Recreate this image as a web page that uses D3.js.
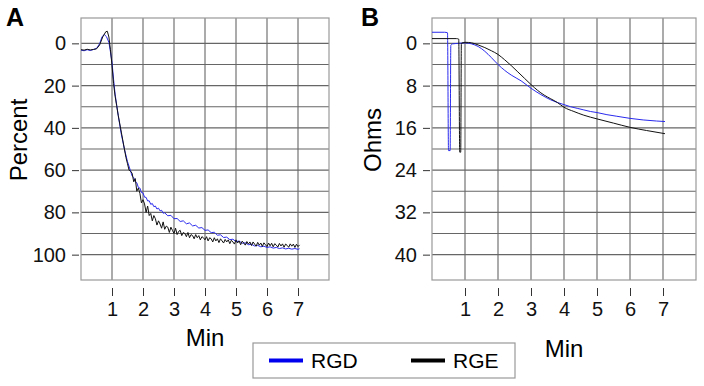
<!DOCTYPE html>
<html>
<head>
<meta charset="utf-8">
<script src="https://cdn.jsdelivr.net/npm/d3@7"></script>
<style>
  body { margin: 0; background: #fff; }
  svg { font-family: "Liberation Sans", Arial, sans-serif; }
</style>
</head>
<body>
<svg id="chart" width="704" height="386"></svg>
<script>
// panel A: percent vs minutes, [min, percent]
const rgdPercent = [
  [0, 3.2], [0.1, 3.5], [0.2, 3.0], [0.3, 3.4], [0.4, 2.9], [0.5, 2.4], [0.6, 0.2], [0.68, -3.2],
  [0.75, -4.2], [0.82, -3.2], [0.9, -0.5], [0.95, 4], [1.0, 9], [1.05, 17], [1.1, 24], [1.15, 29],
  [1.2, 34], [1.3, 43], [1.4, 50], [1.5, 56], [1.6, 60.5], [1.65, 62.8], [1.7, 63.5], [1.75, 65.5],
  [1.8, 66], [1.85, 68.2], [1.9, 68.5], [1.95, 70.6], [2.0, 70.8], [2.05, 72.8], [2.1, 72.9], [2.15, 74.6],
  [2.2, 74.5], [2.25, 76.2], [2.3, 75.8], [2.35, 77.3], [2.4, 77], [2.45, 78.4], [2.5, 78], [2.55, 79.3],
  [2.6, 79], [2.65, 80.4], [2.7, 80.2], [2.8, 81.6], [2.9, 81.4], [3.0, 83], [3.1, 82.9], [3.2, 84.3],
  [3.3, 84], [3.4, 85.4], [3.5, 85], [3.6, 86.4], [3.7, 86.1], [3.8, 87.4], [3.9, 87.2], [4.0, 88.5],
  [4.1, 88.3], [4.2, 89.6], [4.3, 89.4], [4.4, 90.8], [4.5, 90.6], [4.6, 91.9], [4.7, 91.7], [4.8, 92.9],
  [4.9, 92.7], [5.0, 93.8], [5.1, 93.6], [5.2, 94.6], [5.3, 94.4], [5.4, 95.3], [5.5, 95.1], [5.6, 95.9],
  [5.7, 95.6], [5.8, 96.3], [5.9, 96], [6.0, 96.6], [6.1, 96.3], [6.2, 96.9], [6.3, 96.6], [6.4, 97.1],
  [6.5, 96.8], [6.6, 97.3], [6.7, 97], [6.8, 97.4], [6.9, 97.1], [7.0, 97.5], [7.05, 97.2]
];
const rgePercent = [
  [0, 3.0], [0.1, 3.2], [0.2, 2.8], [0.3, 3.1], [0.4, 2.9], [0.5, 2.6], [0.6, 0.8], [0.7, -3],
  [0.8, -5.5], [0.85, -5.7], [0.9, -3], [0.95, 3], [1.0, 10.5], [1.05, 19], [1.1, 25], [1.15, 29.5],
  [1.2, 34], [1.3, 42], [1.4, 50], [1.45, 54], [1.5, 57], [1.55, 60], [1.6, 60.5], [1.65, 61.5],
  [1.7, 65.5], [1.75, 64], [1.8, 70], [1.85, 68.5], [1.9, 71], [1.95, 75.5], [2.0, 74], [2.05, 76],
  [2.1, 80], [2.15, 77], [2.2, 81.5], [2.25, 80.5], [2.3, 84], [2.35, 81.5], [2.4, 83], [2.45, 86],
  [2.5, 84], [2.55, 85.5], [2.6, 87.5], [2.65, 84.5], [2.7, 88], [2.75, 86.5], [2.8, 87], [2.85, 89.5],
  [2.9, 87], [2.95, 88.5], [3.0, 90], [3.05, 87.5], [3.1, 90.5], [3.15, 89], [3.2, 88.5], [3.25, 91],
  [3.3, 89.5], [3.35, 90], [3.4, 91.5], [3.45, 89.5], [3.5, 92], [3.55, 90.5], [3.6, 91], [3.65, 92.5],
  [3.7, 90.5], [3.75, 92], [3.8, 91], [3.85, 93], [3.9, 91.5], [3.95, 92], [4.0, 93], [4.05, 91.5],
  [4.1, 93.5], [4.15, 92], [4.2, 92.5], [4.25, 94], [4.3, 92], [4.35, 93.5], [4.4, 92.5], [4.45, 94.3],
  [4.5, 92.5], [4.55, 93.5], [4.6, 94.5], [4.65, 92.8], [4.7, 94], [4.75, 93], [4.8, 94.8], [4.85, 93.2],
  [4.9, 94], [4.95, 95], [5.0, 93], [5.05, 94.5], [5.1, 93.5], [5.15, 95.3], [5.2, 93.6], [5.25, 94.5],
  [5.3, 95.5], [5.35, 93.8], [5.4, 95], [5.45, 94], [5.5, 95.7], [5.55, 94], [5.6, 95], [5.65, 96],
  [5.7, 94.2], [5.75, 95.5], [5.8, 94.5], [5.85, 96.1], [5.9, 94.4], [5.95, 95.3], [6.0, 96.2], [6.05, 94.5],
  [6.1, 95.8], [6.15, 94.6], [6.2, 96.3], [6.25, 94.8], [6.3, 95.5], [6.35, 96.4], [6.4, 94.7], [6.45, 95.9],
  [6.5, 94.9], [6.55, 96.5], [6.6, 95], [6.65, 95.6], [6.7, 96.5], [6.75, 94.9], [6.8, 96], [6.85, 95],
  [6.9, 96.6], [6.95, 95.1], [7.0, 96.2], [7.05, 95.4]
];

// panel B: ohms vs minutes
const rgdOhms = [
  [0, -2.1], [0.38, -2.1], [0.47, -2.0], [0.5, 20.3], [0.55, 20.3], [0.57, 0.4], [0.62, 0.1], [0.8, 0],
  [1.0, -0.1], [1.2, 0.1], [1.4, 0.6], [1.6, 1.5], [1.8, 2.7], [2.0, 4.0], [2.2, 5.1], [2.4, 6.0],
  [2.7, 7.1], [3.0, 8.5], [3.3, 9.7], [3.6, 10.7], [3.8, 11.2], [4.0, 11.6], [4.2, 12.0], [4.4, 12.3],
  [4.6, 12.6], [4.8, 12.9], [5.0, 13.1], [5.3, 13.5], [5.6, 13.8], [6.0, 14.2], [6.4, 14.5], [6.8, 14.7],
  [7.06, 14.8]
];
const rgeOhms = [
  [0, -0.9], [0.74, -0.9], [0.81, -0.8], [0.84, 20.6], [0.87, 20.6], [0.89, 0], [1.0, -0.2], [1.2, -0.1],
  [1.4, 0.3], [1.6, 0.8], [1.8, 1.4], [2.0, 2.1], [2.2, 3.1], [2.4, 4.2], [2.6, 5.4], [2.8, 6.6],
  [3.0, 7.8], [3.2, 8.9], [3.4, 9.8], [3.6, 10.5], [3.8, 11.2], [4.0, 12.1], [4.3, 12.9], [4.6, 13.6],
  [5.0, 14.3], [5.5, 15.1], [6.0, 15.9], [6.5, 16.5], [7.06, 17.1]
];

const minTicks = [1, 2, 3, 4, 5, 6, 7];
const percentTicks = [0, 20, 40, 60, 80, 100];
const percentGrid = [0, 10, 20, 30, 40, 50, 60, 70, 80, 90, 100];
const ohmsTicks = [0, 8, 16, 24, 32, 40];
const ohmsGrid = [0, 4, 8, 12, 16, 20, 24, 28, 32, 36, 40];
const seriesNames = ["RGD", "RGE"];
const seriesColors = ["#2a2aee", "#111111"];

const svg = d3.select("#chart");
const plotTop = 18, plotBottom = 280;

function panel(opts) {
  const x = d3.scaleLinear([0, 8], [opts.left, opts.right]);
  const y = d3.scaleLinear(opts.yDomain, [plotTop, plotBottom]);
  const g = svg.append("g");

  g.append("g")
    .selectAll("line")
    .data(opts.grid)
    .join("line")
    .attr("x1", opts.left).attr("x2", opts.right)
    .attr("y1", d => y(d)).attr("y2", d => y(d))
    .attr("stroke", "#666").attr("stroke-width", 1.1);

  g.append("g")
    .selectAll("line")
    .data(minTicks)
    .join("line")
    .attr("x1", d => x(d)).attr("x2", d => x(d))
    .attr("y1", plotTop).attr("y2", plotBottom)
    .attr("stroke", "#666").attr("stroke-width", 1.1);

  g.append("rect")
    .attr("x", opts.left).attr("y", plotTop)
    .attr("width", opts.right - opts.left).attr("height", plotBottom - plotTop)
    .attr("fill", "none").attr("stroke", "#999").attr("stroke-width", 1.2);

  const yAxis = g.append("g")
    .attr("transform", `translate(${opts.left - 2},0)`)
    .call(d3.axisLeft(y).tickValues(opts.ticks).tickSize(7).tickPadding(6));
  yAxis.select(".domain").remove();
  yAxis.selectAll("text").style("font-size", "20px").attr("fill", "#111");
  yAxis.selectAll("line").attr("stroke", "#333");

  const xAxis = g.append("g")
    .attr("transform", `translate(0,${plotBottom + 8})`)
    .call(d3.axisBottom(x).tickValues(minTicks).tickSize(8).tickPadding(6));
  xAxis.select(".domain").remove();
  xAxis.selectAll("text").style("font-size", "20px").attr("fill", "#111");
  xAxis.selectAll("line").attr("stroke", "#333");

  const line = d3.line().x(d => x(d[0])).y(d => y(d[1])).curve(opts.curve);
  opts.series.forEach((s, i) => {
    g.append("path")
      .datum(s)
      .attr("fill", "none")
      .attr("stroke", seriesColors[i])
      .attr("stroke-width", opts.lineWidth)
      .attr("stroke-linejoin", "round")
      .attr("d", line);
  });

  g.append("text")
    .attr("transform", "rotate(-90)")
    .attr("x", -140).attr("y", opts.ylabelX)
    .attr("text-anchor", "middle")
    .style("font-size", "24px")
    .text(opts.ylabel);

  g.append("text")
    .attr("x", (opts.left + opts.right) / 2).attr("y", opts.minY)
    .attr("text-anchor", "middle")
    .style("font-size", "24px")
    .text("Min");

  g.append("text")
    .attr("x", opts.letterX).attr("y", 26)
    .style("font-size", "25px").style("font-weight", "bold")
    .text(opts.letter);
}

panel({
  left: 81, right: 329, yDomain: [-12, 112], ticks: percentTicks, grid: percentGrid,
  series: [rgdPercent, rgePercent], lineWidth: 1, curve: d3.curveLinear,
  ylabel: "Percent", ylabelX: 27, minY: 346, letter: "A", letterX: 6
});
panel({
  left: 432, right: 696, yDomain: [-4.8, 44.8], ticks: ohmsTicks, grid: ohmsGrid,
  series: [rgdOhms, rgeOhms], lineWidth: 1, curve: d3.curveMonotoneX,
  ylabel: "Ohms", ylabelX: 381, minY: 357, letter: "B", letterX: 361
});

// legend
const legend = svg.append("g");
legend.append("rect")
  .attr("x", 253).attr("y", 343).attr("width", 262).attr("height", 35)
  .attr("fill", "#fff").attr("stroke", "#999").attr("stroke-width", 1.2);
const legendX = [269, 411];
seriesNames.forEach((name, i) => {
  legend.append("line")
    .attr("x1", legendX[i]).attr("x2", legendX[i] + 34)
    .attr("y1", 360.5).attr("y2", 360.5)
    .attr("stroke", i === 0 ? "#0000ee" : "#000").attr("stroke-width", 4);
  legend.append("text")
    .attr("x", legendX[i] + 42).attr("y", 368)
    .style("font-size", "21px")
    .text(name);
});
</script>
</body>
</html>
